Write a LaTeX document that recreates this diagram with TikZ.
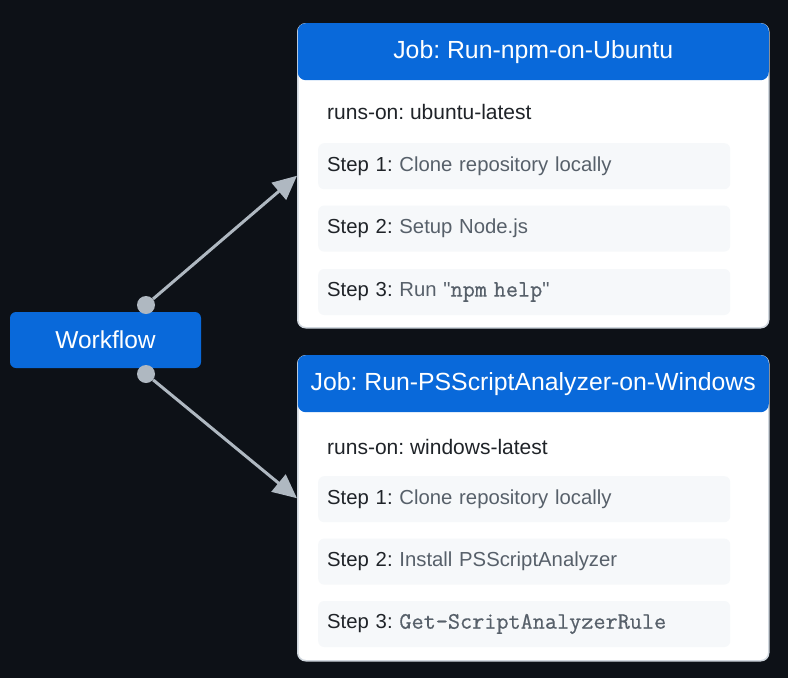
\documentclass[tikz,border=0pt]{standalone}
\usepackage{fontspec}
\setmainfont{Liberation Sans}[Ligatures=TeXOff]
\setmonofont{Latin Modern Mono}[Scale=1.16,FakeBold=0.6]
\usetikzlibrary{arrows.meta,positioning}
\definecolor{bgdark}{HTML}{0D1117}
\definecolor{ghblue}{HTML}{0969DA}
\definecolor{ghborder}{HTML}{D0D7DE}
\definecolor{stepfill}{HTML}{F6F8FA}
\definecolor{desctext}{HTML}{57606A}
\definecolor{linkgray}{HTML}{AFB8C1}
\definecolor{labeltext}{HTML}{1F2328}
\tikzset{
  wfbox/.style={fill=ghblue,rounded corners=6pt,text=white,minimum width=191pt,minimum height=56pt,
    font=\fontsize{24.5}{28}\selectfont},
  jobbody/.style={fill=white,draw=ghborder,line width=1.5pt,rounded corners=8pt,minimum width=471pt,anchor=north west},
  jobhead/.style={fill=ghblue,rounded corners=8pt,text=white,minimum width=471pt,minimum height=57pt,
    anchor=north,font=\fontsize{24.8}{28}\selectfont},
  runson/.style={anchor=west,text=labeltext,font=\fontsize{21}{25}\selectfont,inner sep=0pt},
  stepbox/.style={fill=stepfill,rounded corners=6pt,minimum height=46pt,text width=394pt,inner xsep=9pt,
    align=left,text=labeltext,font=\fontsize{20.3}{24}\selectfont},
  dot/.style={circle,fill=linkgray,minimum size=18pt,inner sep=0pt},
  conn/.style={draw=linkgray,line width=3pt,-{Triangle[length=24pt,width=22pt]}}
}
\newcommand{\stepdesc}[1]{{\color{desctext}#1}}
\begin{document}
\frenchspacing
\begin{tikzpicture}[x=1pt,y=-1pt]
\fill[bgdark] (0,0) rectangle (788,678);
\useasboundingbox (0,0) rectangle (788,678);

% workflow
\node[wfbox] (wf) at (105.5,340) {Workflow};
\node[dot] (dottop) at (146,305) {};
\node[dot] (dotbot) at (146,374) {};

% job 1
\node[jobbody,minimum height=304pt] (job1) at (297,23) {};
\node[jobhead] (job1head) at (job1.north) {Job: Run-npm-on-Ubuntu};
\node[runson] (runs1) at (327,112) {runs-on: ubuntu-latest};
\node[stepbox,anchor=north west] (s11) at (318,143) {Step 1: \stepdesc{Clone repository locally}};
\node[stepbox,below=16pt of s11] (s12) {Step 2: \stepdesc{Setup Node.js}};
\node[stepbox,below=17pt of s12] (s13) {Step 3: \stepdesc{Run "\texttt{npm help}"}};

% job 2
\node[jobbody,minimum height=305pt] (job2) at (297,355) {};
\node[jobhead] (job2head) at (job2.north) {Job: Run-PSScriptAnalyzer-on-Windows};
\node[runson] (runs2) at (327,447) {runs-on: windows-latest};
\node[stepbox,anchor=north west] (s21) at (318,476) {Step 1: \stepdesc{Clone repository locally}};
\node[stepbox,below=16pt of s21] (s22) {Step 2: \stepdesc{Install PSScriptAnalyzer}};
\node[stepbox,below=16pt of s22] (s23) {Step 3: \stepdesc{\texttt{Get-ScriptAnalyzerRule}}};

% links
\coordinate (in2) at ([yshift=10pt]job2.west);
\draw[conn] (dottop) -- (job1.west);
\draw[conn] (dotbot) -- (in2);
\end{tikzpicture}
\end{document}
